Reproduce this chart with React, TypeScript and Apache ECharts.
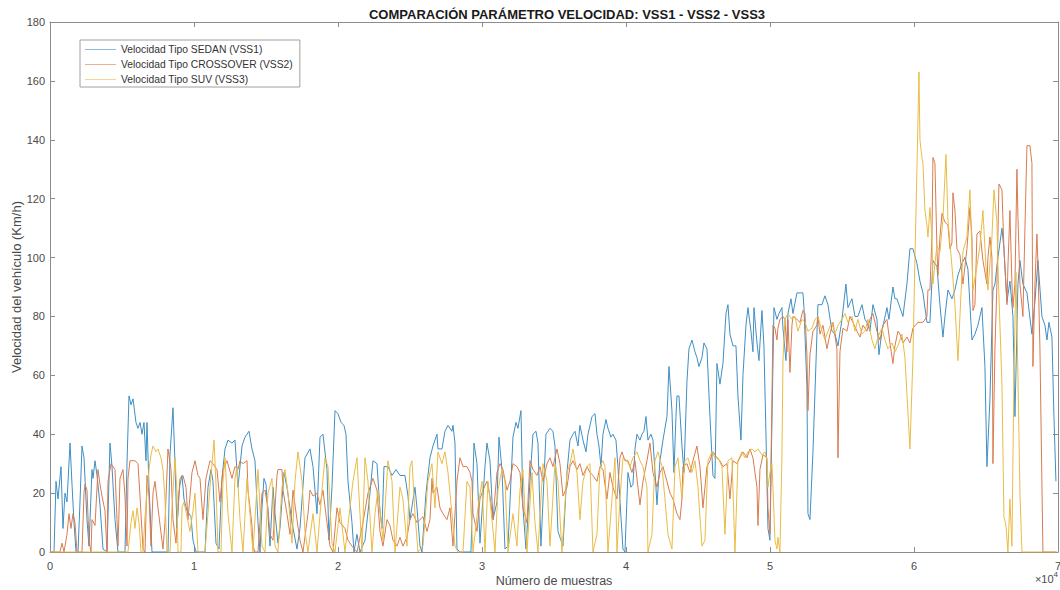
import React, { useEffect, useRef } from "react";
import * as echarts from "echarts";

// Títulos y etiquetas
const TITLE = "COMPARACIÓN PARÁMETRO VELOCIDAD: VSS1 - VSS2 - VSS3";
const X_NAME = "Número de muestras";
const Y_NAME = "Velocidad del vehículo (Km/h)";
const SERIES_NAMES = [
  "Velocidad Tipo SEDAN (VSS1)",
  "Velocidad Tipo CROSSOVER (VSS2)",
  "Velocidad Tipo SUV (VSS3)",
];
const SERIES_COLORS = ["#3f8fc4", "#d97b50", "#eabc45"];

// Escalas de los ejes
const X_MIN = 0;
const X_MAX = 70000;
const X_STEP = 10000;
const X_EXPONENT = 4;
const Y_MIN = 0;
const Y_MAX = 180;
const Y_STEP = 20;

// [muestra, km/h]
const sedanVss1: [number, number][] = [
  [0,0],[278,0],[417,24],[556,18],[764,29],[902,8],[1042,20],[1180,17],[1389,37],[1528,23],[1667,10],[1806,0],[1945,0],[2083,17],[2222,36],[2361,32],[2569,11],[2708,2],[2917,28],[2986,25],[3125,31],[3264,26],[3472,16],[3680,1],[3958,0],[4166,37],[4305,29],[4513,11],[4722,0],[5208,0],[5347,30],[5486,53],[5625,50],[5764,52],[5972,44],[6111,42],[6250,44],[6389,40],[6527,44],[6666,31],[6736,44],[6875,22],[7083,0],[8194,0],[8333,33],[8541,49],[8680,30],[8819,8],[8958,20],[9027,23],[9166,26],[9305,18],[9513,14],[9791,12],[9930,4],[10138,0],[10763,0],[10972,22],[11180,28],[11319,24],[11527,3],[11735,1],[11944,25],[12152,35],[12360,38],[12638,37],[12846,38],[13055,22],[13333,36],[13541,39],[13819,41],[14027,35],[14235,31],[14444,10],[14582,0],[14721,15],[14860,25],[14999,23],[15277,2],[15485,22],[15624,13],[15832,3],[15971,8],[16249,27],[16457,22],[16805,10],[17152,1],[17360,8],[17707,32],[18054,35],[18263,29],[18541,13],[18749,39],[18957,40],[19235,28],[19374,4],[19582,22],[19790,48],[19999,47],[20207,44],[20415,43],[20554,40],[20693,24],[20971,10],[21110,0],[21318,6],[21526,0],[21873,4],[22221,20],[22429,31],[22707,30],[22915,14],[23054,8],[23193,29],[23471,29],[23749,26],[24026,28],[24304,26],[24651,26],[24859,19],[24998,11],[25346,22],[25485,15],[25693,2],[25832,0],[26109,20],[26387,32],[26596,36],[26873,40],[26943,35],[27221,35],[27429,41],[27637,43],[27915,41],[27984,43],[28123,37],[28262,1],[28470,0],[29234,0],[29443,37],[29651,30],[29859,3],[30207,29],[30345,37],[30554,31],[30762,11],[31040,17],[31179,39],[31387,28],[31595,1],[31804,2],[32151,39],[32359,44],[32498,42],[32706,48],[32845,15],[33054,1],[33331,24],[33540,40],[33748,41],[33887,37],[34095,2],[34442,40],[34720,42],[34928,41],[35067,36],[35275,7],[35623,2],[35900,27],[36109,38],[36317,40],[36456,41],[36664,36],
  [36803,43],[37012,38],[37220,34],[37359,40],[37637,46],[37845,47],[37984,40],[38123,36],[38261,29],[38400,40],[38609,45],[38747,42],[38956,39],[39095,40],[39303,38],[39442,29],[39650,12],[39789,1],[39928,0],[40067,18],[40136,27],[40344,22],[40483,23],[40622,35],[40761,40],[40970,38],[41108,40],[41247,41],[41386,46],[41525,38],[41733,40],[41872,38],[42080,22],[42150,16],[42358,31],[42567,38],[42844,46],[42983,63],[43192,48],[43330,27],[43469,46],[43539,53],[43678,53],[43886,36],[44025,27],[44233,58],[44372,69],[44581,72],[44789,68],[44928,66],[45067,63],[45275,66],[45414,71],[45622,69],[45830,46],[46039,26],[46178,25],[46317,64],[46525,57],[46733,64],[46942,81],[47081,84],[47219,74],[47428,70],[47636,70],[47775,53],[47983,38],[48122,60],[48331,77],[48469,83],[48678,75],[48817,68],[48886,83],[49094,71],[49233,65],[49441,82],[49580,70],[49719,40],[49858,8],[49997,4],[50136,45],[50275,83],[50483,79],[50622,81],[50830,83],[50900,76],[51108,65],[51247,81],[51455,86],[51594,81],[51872,88],[52010,88],[52288,88],[52358,83],[52566,56],[52636,13],[52774,11],[52983,34],[53191,64],[53330,84],[53608,84],[53816,87],[54024,84],[54302,75],[54510,74],[54719,70],[54997,79],[55274,91],[55413,83],[55691,86],[55899,80],[56108,80],[56385,84],[56594,79],[56733,78],[56941,75],[57149,84],[57427,79],[57566,67],[57774,75],[58121,83],[58260,79],[58538,90],[58677,86],[58816,86],[59024,83],[59232,80],[59510,91],[59718,103],[59927,103],[60204,98],[60413,92],[60621,88],[60899,78],[61107,78],[61316,99],[61593,97],[61802,84],[62010,73],[62149,80],[62357,89],[62635,86],[62843,89],[63052,94],[63329,98],[63538,100],[63746,96],[64024,72],[64232,74],[64440,77],[64718,83],[64926,63],[65065,29],[65274,52],[65482,89],[65621,91],[65829,100],[66107,110],[66246,103],[66454,85],[66662,92],[66871,80],[67010,46],[67218,91],[67357,99],[67565,91],[67843,88],[68190,74],[68398,85],[68607,99],[68884,80],[69093,77],[69232,72],[69371,78],[69579,73],[69718,46],[69857,24],
];

const crossoverVss2: [number, number][] = [
  [0,0],[694,0],[833,3],[972,0],[1180,6],[1319,13],[1458,8],[1597,13],[1736,10],[1875,0],[2222,0],[2361,20],[2430,23],[2569,21],[2708,4],[2847,0],[2917,11],[3125,9],[3333,28],[3472,23],[3611,19],[3819,14],[3958,0],[4027,24],[4236,30],[4513,28],[4652,11],[4722,2],[4861,25],[5069,28],[5208,19],[5347,2],[5416,25],[5555,31],[5902,31],[6111,30],[6250,19],[6458,1],[6597,0],[6736,26],[6875,19],[7013,2],[7152,20],[7291,24],[7499,15],[7846,1],[7985,10],[8194,35],[8402,28],[8541,11],[8749,3],[9027,25],[9235,26],[9444,22],[9583,11],[9861,27],[10069,31],[10277,26],[10416,25],[10624,11],[10832,25],[11110,31],[11319,30],[11596,28],[11805,17],[12013,28],[12291,31],[12638,25],[12846,29],[13055,28],[13194,31],[13402,30],[13680,31],[13749,21],[14027,9],[14096,2],[14235,0],[14444,0],[14721,20],[14930,21],[15138,15],[15277,6],[15485,4],[15763,26],[15832,28],[16110,28],[16179,21],[16457,13],[16666,6],[16874,21],[17152,11],[17360,4],[17568,0],[17915,13],[18054,21],[18263,19],[18541,20],[18749,16],[18957,21],[19235,10],[19443,2],[19651,0],[19929,15],[20138,10],[20485,8],[20693,4],[20971,2],[21318,0],[21735,10],[22082,20],[22429,25],[22707,21],[22915,7],[23124,2],[23401,11],[23610,9],[23818,4],[24096,2],[24304,5],[24512,2],[24790,5],[24998,11],[25207,13],[25485,10],[25693,11],[25901,12],[26179,7],[26387,11],[26526,25],[26596,20],[26873,22],[27082,15],[27290,13],[27568,11],[27776,15],[27984,2],[28262,24],[28470,32],[28679,29],[28957,29],[29165,27],[29304,24],[29373,13],[29651,7],[29859,18],[30068,21],[30345,24],[30554,19],[30762,11],[31040,27],[31248,30],[31456,28],[31734,21],[31942,24],[32151,30],[32429,29],[32637,27],[32845,15],[33123,10],[33331,31],[33540,28],[33818,26],[34026,29],[34234,24],[34512,30],[34720,32],[34928,29],[35206,35],[35414,30],[35623,19],[35900,22],[36109,29],[36317,31],[36595,28],
  [36803,30],[37012,26],[37289,29],[37498,27],[37706,26],[37984,24],[38192,29],[38400,28],[38678,18],[38886,27],[39095,22],[39372,18],[39581,32],[39720,34],[39928,31],[40136,31],[40414,27],[40622,31],[40831,22],[40970,16],[41178,24],[41456,31],[41664,37],[41872,27],[42150,22],[42358,27],[42567,29],[42844,24],[43053,20],[43261,18],[43539,13],[43747,11],[43886,18],[43956,29],[44233,30],[44442,27],[44650,31],[44928,36],[45136,29],[45344,15],[45622,29],[45830,31],[46039,34],[46317,32],[46525,31],[46733,29],[47011,30],[47219,18],[47428,31],[47706,30],[47914,32],[48122,34],[48400,32],[48608,35],[48817,32],[49094,22],[49164,9],[49302,28],[49511,33],[49788,32],[49858,15],[49997,6],[50136,52],[50205,77],[50344,76],[50483,72],[50552,76],[50691,79],[50900,80],[51038,79],[51177,68],[51247,79],[51386,61],[51525,77],[51594,80],[51872,79],[52080,78],[52288,82],[52427,81],[52566,67],[52636,48],[52774,67],[52983,75],[53261,77],[53330,80],[53469,74],[53677,77],[53955,69],[54163,74],[54372,78],[54649,69],[54719,32],[54858,68],[55066,76],[55344,75],[55552,80],[55760,78],[56038,75],[56246,73],[56455,77],[56733,75],[56941,79],[57149,81],[57427,75],[57635,72],[57844,77],[58121,79],[58330,71],[58538,64],[58677,70],[58885,75],[59024,74],[59232,71],[59510,73],[59718,71],[59927,76],[60274,78],[60621,78],[60899,80],[60968,89],[61107,89],[61246,107],[61316,134],[61454,132],[61593,103],[61663,94],[61802,107],[61941,115],[62149,112],[62357,111],[62496,103],[62635,105],[62704,122],[62843,116],[62982,103],[63190,101],[63399,91],[63677,103],[63885,117],[64024,107],[64093,82],[64232,84],[64371,108],[64579,109],[64787,99],[65065,91],[65135,100],[65274,107],[65413,100],[65482,30],[65621,69],[65760,91],[65899,125],[66107,123],[66246,103],[66454,84],[66523,97],[66662,116],[66801,91],[66871,83],[67010,91],[67149,130],[67218,114],[67357,91],[67565,80],[67704,110],[67843,138],[68051,138],[68190,132],[68260,63],[68398,91],[68537,108],[68607,98],[68746,69],[68884,23],[68954,0],[69900,0],
];

const suvVss3: [number, number][] = [
  [0,0],[5416,0],[5625,10],[5764,14],[5902,8],[6041,15],[6180,10],[6319,0],[6458,0],[6597,12],[6736,20],[6875,28],[7013,33],[7152,36],[7360,34],[7499,35],[7708,32],[7846,28],[7985,18],[8124,0],[8333,0],[8471,15],[8680,32],[8819,20],[8888,0],[9096,0],[9166,15],[9305,17],[9513,12],[9722,7],[9930,14],[10069,20],[10277,0],[10763,0],[11110,22],[11388,38],[11527,23],[11666,0],[11874,0],[12013,24],[12152,32],[12360,13],[12638,0],[12846,25],[12985,29],[13194,11],[13402,0],[13680,25],[13888,13],[14096,0],[14444,28],[14721,2],[14930,0],[15138,20],[15416,25],[15624,2],[15832,0],[16110,22],[16318,28],[16527,20],[16805,3],[17013,24],[17221,34],[17499,24],[17707,7],[17915,0],[18263,13],[18541,0],[18888,21],[19096,32],[19304,29],[19582,3],[19790,0],[20138,15],[20485,0],[20832,15],[21040,24],[21318,32],[21526,13],[21665,0],[21873,32],[22082,24],[22360,0],[22568,13],[22776,21],[23124,4],[23471,31],[23749,24],[23957,0],[24304,22],[24512,18],[24790,2],[24998,29],[25137,31],[25346,13],[25554,0],[25901,2],[26248,24],[26526,30],[26734,15],[26943,34],[27221,30],[27429,34],[27637,27],[27915,13],[28123,2],[28332,0],[28679,0],[28957,24],[29165,22],[29373,0],[29720,15],[29998,24],[30207,0],[30415,24],[30693,11],[30901,0],[31110,21],[31387,28],[31595,24],[31804,0],[32151,13],[32429,2],[32637,21],[32845,28],[33123,0],[33470,27],[33678,10],[33887,0],[34234,30],[34512,24],[34720,2],[35067,30],[35275,24],[35553,0],[35900,27],[36109,30],[36317,35],[36595,27],
  [36803,11],[37012,24],[37289,29],[37498,30],[37706,0],[37984,6],[38192,29],[38400,31],[38539,29],[38747,0],[39025,18],[39234,32],[39372,0],[39581,18],[39789,32],[40067,31],[40275,29],[40483,32],[40761,34],[40970,31],[41178,29],[41456,22],[41525,0],[41803,6],[42011,31],[42219,34],[42497,29],[42706,18],[42914,6],[43192,1],[43400,29],[43609,32],[43886,18],[44095,31],[44303,32],[44581,27],[44789,31],[44998,22],[45275,2],[45483,4],[45692,31],[45969,34],[46178,32],[46386,32],[46664,29],[46872,6],[47081,31],[47358,32],[47567,0],[47775,31],[48053,34],[48261,32],[48469,34],[48747,35],[48955,34],[49164,35],[49441,33],[49650,34],[49789,31],[49858,22],[49997,27],[50136,30],[50205,22],[50344,4],[50483,1],[50552,5],[50691,0],[50830,33],[50900,65],[51038,79],[51247,81],[51525,79],[51733,80],[51941,75],[52219,79],[52427,78],[52636,75],[52913,76],[53122,79],[53330,80],[53608,75],[53816,72],[54024,75],[54302,78],[54510,74],[54719,77],[54997,79],[55205,81],[55413,78],[55691,80],[55899,75],[56108,79],[56385,74],[56594,75],[56802,79],[57080,72],[57288,69],[57496,73],[57774,76],[57982,72],[58191,69],[58469,71],[58677,68],[58885,70],[59163,74],[59371,66],[59718,35],[59927,66],[60066,100],[60204,130],[60343,163],[60413,140],[60551,134],[60621,132],[60760,116],[60899,111],[60968,107],[61107,117],[61246,107],[61316,91],[61454,98],[61593,104],[61802,102],[62010,113],[62219,135],[62357,113],[62635,97],[62843,84],[63052,65],[63190,80],[63399,102],[63677,107],[63885,123],[64024,102],[64093,89],[64371,97],[64579,104],[64787,116],[64996,97],[65135,89],[65413,107],[65552,123],[65760,112],[65829,97],[66107,57],[66246,12],[66385,9],[66523,0],[66662,18],[66801,2],[66940,60],[67079,95],[67218,60],[67357,20],[67496,0],[69900,0],
];

const SERIES_DATA = [sedanVss1, crossoverVss2, suvVss3];

const FONT = "'Liberation Sans', Arial, Helvetica, sans-serif";
const AXIS_COLOR = "#8c8c8c";
const LABEL_COLOR = "#4a4a4a";

function boxAxis(base: Record<string, unknown>, showLabels: boolean) {
  return {
    type: "value",
    ...base,
    axisLine: { show: true, onZero: false, lineStyle: { color: AXIS_COLOR, width: 1 } },
    axisTick: { show: true, inside: true, length: 5, lineStyle: { color: AXIS_COLOR, width: 1 } },
    splitLine: { show: false },
    axisLabel: showLabels
      ? { show: true, color: LABEL_COLOR, fontSize: 11, fontFamily: FONT }
      : { show: false },
  };
}

export default function App() {
  const ref = useRef<HTMLDivElement>(null);

  useEffect(() => {
    if (!ref.current) return;
    const chart = echarts.init(ref.current, null, { renderer: "svg" });

    const xBase = { min: X_MIN, max: X_MAX, interval: X_STEP };
    const yBase = { min: Y_MIN, max: Y_MAX, interval: Y_STEP };

    const bottomX: any = boxAxis({ ...xBase, position: "bottom" }, true);
    bottomX.axisLabel.margin = 8;
    bottomX.axisLabel.showMaxLabel = true;
    bottomX.axisLabel.formatter = (v: number) => String(v / Math.pow(10, X_EXPONENT));
    bottomX.name = X_NAME;
    bottomX.nameLocation = "middle";
    bottomX.nameGap = 22;
    bottomX.nameMoveOverlap = false;
    bottomX.nameTextStyle = { color: LABEL_COLOR, fontSize: 12.5, fontFamily: FONT };

    const topX: any = boxAxis({ ...xBase, position: "top" }, false);

    const leftY: any = boxAxis({ ...yBase, position: "left" }, true);
    leftY.axisLabel.margin = 5;
    leftY.name = Y_NAME;
    leftY.nameLocation = "middle";
    leftY.nameGap = 27;
    leftY.nameMoveOverlap = false;
    leftY.nameTextStyle = { color: LABEL_COLOR, fontSize: 13, fontFamily: FONT };

    const rightY: any = boxAxis({ ...yBase, position: "right" }, false);

    chart.setOption({
      animation: false,
      backgroundColor: "#ffffff",
      title: {
        text: TITLE,
        left: 562,
        textAlign: "center",
        top: 3,
        textStyle: { fontSize: 13, fontWeight: "bold", color: "#1a1a1a", fontFamily: FONT },
      },
      grid: { left: 50, right: 2, top: 22, bottom: 38, outerBoundsMode: "none" },
      legend: {
        left: 80,
        top: 40,
        orient: "vertical",
        icon: "rect",
        itemWidth: 31,
        itemHeight: 1,
        itemGap: 2,
        padding: [3, 7, 1, 5],
        backgroundColor: "#ffffff",
        borderColor: "#a0a0a0",
        borderWidth: 1,
        textStyle: { fontSize: 10.3, lineHeight: 13, color: "#333333", fontFamily: FONT },
        data: SERIES_NAMES.map((name, i) => ({
          name,
          itemStyle: { color: SERIES_COLORS[i], opacity: 0.6 },
        })),
      },
      xAxis: [bottomX, topX],
      yAxis: [leftY, rightY],
      graphic: [
        {
          type: "text",
          right: 2,
          top: 570,
          style: {
            text: "{m|×10}{e|" + X_EXPONENT + "}",
            rich: {
              m: { fontSize: 11, fill: LABEL_COLOR, fontFamily: FONT, verticalAlign: "bottom" },
              e: { fontSize: 8, fill: LABEL_COLOR, fontFamily: FONT, verticalAlign: "top", padding: [0, 0, 6, 0] },
            },
          },
        },
      ],
      series: SERIES_NAMES.map((name, i) => ({
        name,
        type: "line",
        xAxisIndex: 0,
        yAxisIndex: 0,
        data: SERIES_DATA[i],
        showSymbol: false,
        symbol: "none",
        lineStyle: { color: SERIES_COLORS[i], width: 1 },
        itemStyle: { color: SERIES_COLORS[i] },
        z: 2 + i,
      })),
    });

    return () => chart.dispose();
  }, []);

  return (
    <div
      ref={ref}
      style={{ position: "fixed", left: 0, top: 0, width: 1060, height: 590, background: "#ffffff" }}
    />
  );
}
